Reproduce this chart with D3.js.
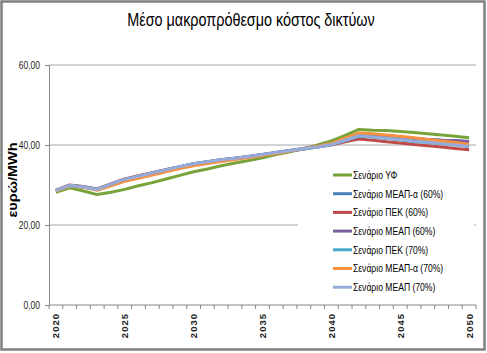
<!DOCTYPE html>
<html>
<head>
<meta charset="utf-8">
<script src="https://cdn.jsdelivr.net/npm/d3@7"></script>
<style>
  body { margin: 0; background: #fff; }
  svg text { font-family: "Liberation Sans", Arial, sans-serif; }
</style>
</head>
<body>
<div id="chart"></div>
<script>
const years = d3.range(2020, 2051).map(String);
const yTicks = [0, 20, 40, 60];

const seriesNames = [
    'Σενάριο ΥΦ',
    'Σενάριο ΜΕΑΠ-α (60%)',
    'Σενάριο ΠΕΚ (60%)',
    'Σενάριο ΜΕΑΠ (60%)',
    'Σενάριο ΠΕΚ (70%)',
    'Σενάριο ΜΕΑΠ-α (70%)',
    'Σενάριο ΜΕΑΠ (70%)'
];
const seriesColors = ['#77A33A', '#4A7EBB', '#BE4B48', '#7D60A0', '#46AAC5', '#F69240', '#95ABDB'];

const yfValues = [28.2, 29.3, 28.5, 27.6, 28.2, 28.9, 29.8, 30.6, 31.5, 32.4, 33.3, 34.0, 34.8, 35.5, 36.1, 36.8,
    37.6, 38.3, 39.1, 40.0, 41.0, 42.4, 43.9, 43.7, 43.6, 43.4, 43.1, 42.8, 42.5, 42.2, 41.8];
const meapA60 = [28.6, 29.9, 29.5, 28.9, 30.2, 31.4, 32.2, 33.0, 33.8, 34.6, 35.3, 35.8, 36.3, 36.7, 37.1, 37.6,
    38.1, 38.6, 39.1, 39.6, 40.2, 41.3, 42.4, 42.2, 42.0, 41.8, 41.6, 41.4, 41.2, 41.0, 40.8];
const pek60 = [28.7, 30.0, 29.6, 29.0, 30.3, 31.5, 32.3, 33.1, 33.8, 34.5, 35.2, 35.7, 36.2, 36.6, 37.0, 37.5,
    38.0, 38.5, 39.0, 39.5, 40.0, 40.8, 41.5, 41.2, 40.8, 40.5, 40.1, 39.8, 39.5, 39.1, 38.8];
const meap60 = [28.6, 29.9, 29.5, 28.9, 30.2, 31.4, 32.2, 33.0, 33.8, 34.6, 35.3, 35.8, 36.3, 36.7, 37.1, 37.6,
    38.1, 38.6, 39.1, 39.6, 40.2, 41.2, 42.3, 42.1, 41.9, 41.8, 41.6, 41.4, 41.2, 41.1, 40.9];
const pek70 = [28.6, 29.9, 29.5, 28.9, 30.1, 31.3, 32.1, 32.9, 33.7, 34.5, 35.2, 35.7, 36.2, 36.6, 37.0, 37.5,
    38.0, 38.5, 39.0, 39.5, 40.1, 41.1, 42.2, 42.0, 41.6, 41.3, 40.9, 40.6, 40.3, 40.0, 39.7];
const meapA70 = [28.5, 29.8, 29.4, 28.7, 29.8, 30.9, 31.7, 32.5, 33.3, 34.1, 34.8, 35.4, 35.9, 36.4, 36.9, 37.4,
    37.9, 38.5, 39.1, 39.7, 40.4, 41.7, 43.0, 42.8, 42.5, 42.2, 41.8, 41.4, 41.0, 40.6, 40.2];
const meap70 = [28.6, 29.9, 29.5, 28.9, 30.2, 31.4, 32.2, 33.0, 33.8, 34.6, 35.3, 35.8, 36.3, 36.7, 37.1, 37.6,
    38.1, 38.6, 39.1, 39.5, 40.1, 41.2, 42.3, 42.0, 41.7, 41.4, 41.0, 40.7, 40.3, 40.0, 39.6];

const seriesValues = [yfValues, meapA60, pek60, meap60, pek70, meapA70, meap70];

const W = 487, H = 353;
const margin = { top: 65, right: 11, bottom: 48, left: 49 };
const width = W - margin.left - margin.right;
const height = H - margin.top - margin.bottom;

const svg = d3.select('#chart').append('svg')
    .attr('width', W)
    .attr('height', H);

// outer frame
svg.append('rect')
    .attr('x', 1.5).attr('y', 1.5)
    .attr('width', W - 4).attr('height', H - 5)
    .attr('fill', '#fff')
    .attr('stroke', '#7f7f7f')
    .attr('stroke-width', 2.5);

// title (squeezed horizontally, no narrow font available)
svg.append('text')
    .attr('transform', 'translate(251,26) scale(0.8,1)')
    .attr('text-anchor', 'middle')
    .style('font-size', '18px')
    .style('fill', '#000')
    .text('Μέσο μακροπρόθεσμο κόστος δικτύων');

const g = svg.append('g')
    .attr('transform', `translate(${margin.left},${margin.top})`);

const x = d3.scaleBand().domain(years).range([0, width]);
const y = d3.scaleLinear().domain([0, 60]).range([height, 0]);

// gridlines
g.append('g')
    .selectAll('line')
    .data(yTicks.filter(d => d > 0))
    .join('line')
    .attr('x1', 0).attr('x2', width)
    .attr('y1', d => y(d)).attr('y2', d => y(d))
    .attr('stroke', '#a6a6a6')
    .attr('stroke-width', 1);

// y axis
const yAxis = g.append('g')
    .call(d3.axisLeft(y).tickValues(yTicks).tickSize(4).tickPadding(5)
        .tickFormat(d => d3.format('.2f')(d).replace('.', ',')));
yAxis.select('.domain').attr('stroke', '#868686');
yAxis.selectAll('.tick line').attr('stroke', '#868686');
yAxis.selectAll('text')
    .attr('x', null)
    .attr('transform', 'translate(-9,0) scale(0.85,1)')
    .style('font-size', '10px')
    .style('fill', '#222');

// x axis (ticks between categories, labels every 5 years)
const xAxisG = g.append('g').attr('transform', `translate(0,${height})`);
xAxisG.append('line')
    .attr('x1', 0).attr('x2', width)
    .attr('stroke', '#868686');
xAxisG.selectAll('line.tk')
    .data(years.concat(['end']))
    .join('line')
    .attr('class', 'tk')
    .attr('x1', (d, i) => i * x.step()).attr('x2', (d, i) => i * x.step())
    .attr('y1', 0).attr('y2', 4)
    .attr('stroke', '#868686');
xAxisG.selectAll('text')
    .data(years.filter(d => +d % 5 === 0))
    .join('text')
    .attr('transform', d => `translate(${x(d) + x.bandwidth() / 2 + 3.5},8) rotate(-90)`)
    .attr('text-anchor', 'end')
    .style('font-size', '9.5px')
    .style('font-weight', 'bold')
    .style('letter-spacing', '1px')
    .style('fill', '#222')
    .text(d => d);

svg.append('text')
    .attr('transform', `translate(17,180) rotate(-90)`)
    .attr('text-anchor', 'middle')
    .attr('textLength', 75)
    .attr('lengthAdjust', 'spacingAndGlyphs')
    .style('font-size', '13px')
    .style('font-weight', 'bold')
    .style('fill', '#000')
    .text('ευρώ/MWh');

// lines
const line = d3.line()
    .x((d, i) => x(years[i]) + x.bandwidth() / 2)
    .y(d => y(d));

seriesValues.forEach((vals, i) => {
    g.append('path')
        .datum(vals)
        .attr('fill', 'none')
        .attr('stroke', seriesColors[i])
        .attr('stroke-width', 3)
        .attr('stroke-linejoin', 'round')
        .attr('d', line);
});

// legend
const legend = svg.append('g');
legend.append('rect')
    .attr('x', 298).attr('y', 165)
    .attr('width', 176).attr('height', 132)
    .attr('fill', '#fff');

seriesNames.forEach((name, i) => {
    const row = legend.append('g')
        .attr('transform', `translate(333,${175 + i * 18.7})`);
    row.append('line')
        .attr('x1', 0).attr('x2', 19)
        .attr('stroke', seriesColors[i])
        .attr('stroke-width', 3);
    row.append('text')
        .attr('transform', 'translate(20,0) scale(0.78,1)')
        .attr('dy', '0.35em')
        .style('font-size', '11px')
        .style('fill', '#000')
        .text(name);
});
</script>
</body>
</html>
